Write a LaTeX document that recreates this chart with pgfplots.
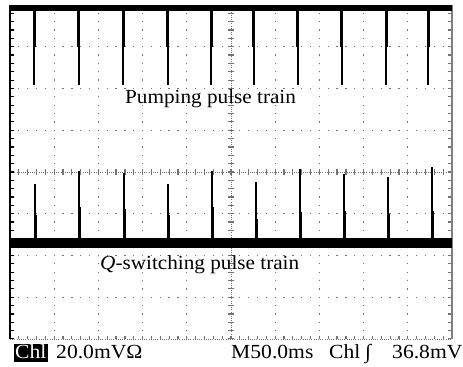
\documentclass[border=0pt]{standalone}
\usepackage{fontspec}
\setmainfont{Liberation Serif}
\newfontfamily\mainlbl[FakeStretch=1.06]{Liberation Serif}
\newfontfamily\statfont[FakeStretch=1.08]{Liberation Serif}
\usepackage{pgfplots}
\pgfplotsset{compat=1.18}
\definecolor{gridgray}{gray}{0.45}
\begin{document}
\begin{tikzpicture}
\begin{axis}[
  at={(0,0)}, anchor=south west,
  scale only axis, width=442bp, height=334bp,
  xmin=0, xmax=10, ymin=0, ymax=8,
  axis lines=none,
  clip=false,
  unbounded coords=jump,
]
% ---- graticule ----
\pgfplotsinvokeforeach{1,2,3,4,6,7,8,9}{
  \draw[gridgray, line width=1.3bp, dash pattern=on 1.3bp off 7.05bp, dash phase=0.65bp]
    (axis cs:#1,0) -- (axis cs:#1,8);
}
\pgfplotsinvokeforeach{1,2,3,5,6,7}{
  \draw[gridgray, line width=1.3bp, dash pattern=on 1.3bp off 7.54bp, dash phase=0.65bp]
    (axis cs:0,#1) -- (axis cs:10,#1);
}
% centre lines
\draw[gridgray, line width=1bp, dash pattern=on 1bp off 1.2bp] (axis cs:5,0) -- (axis cs:5,8);
\draw[gridgray, line width=6bp, dash pattern=on 1.2bp off 7.15bp, dash phase=0.6bp] (axis cs:5,0) -- (axis cs:5,8);
\draw[gridgray, line width=1bp, dash pattern=on 1bp off 1.2bp] (axis cs:0,4) -- (axis cs:10,4);
\draw[gridgray, line width=6bp, dash pattern=on 1.2bp off 7.64bp, dash phase=0.6bp] (axis cs:0,4) -- (axis cs:10,4);
% borders
\draw[gridgray, line width=1bp, dash pattern=on 1bp off 1.2bp] (axis cs:0,0) -- (axis cs:10,0);
\draw[gridgray, line width=3bp, dash pattern=on 1.2bp off 7.64bp, dash phase=0.6bp] ([yshift=1.5bp]axis cs:0,0) -- ([yshift=1.5bp]axis cs:10,0);
\draw[black, line width=3bp, dash pattern=on 1.2bp off 7.15bp, dash phase=0.6bp] ([xshift=2bp]axis cs:0,0) -- ([xshift=2bp]axis cs:0,8);
\draw[gridgray, line width=3bp, dash pattern=on 1.2bp off 7.15bp, dash phase=0.6bp] ([xshift=-2.5bp]axis cs:10,0) -- ([xshift=-2.5bp]axis cs:10,8);
\draw[black, line width=2.2bp] (axis cs:0,0) -- (axis cs:0,8);
\draw[gray, line width=2bp] (axis cs:10,0) -- (axis cs:10,8);

% ---- pumping pulse train ----
\addplot[black, line width=6bp, mark=none] coordinates {(0,7.928) (10,7.928)};
\addplot[black, line width=1.8bp, mark=none] coordinates {
 (0.543,7.93) (0.543,6.084) (nan,nan)
 (1.554,7.93) (1.554,6.084) (nan,nan)
 (2.563,7.93) (2.563,6.084) (nan,nan)
 (3.568,7.93) (3.568,6.084) (nan,nan)
 (4.554,7.93) (4.554,6.084) (nan,nan)
 (5.514,7.93) (5.514,6.084) (nan,nan)
 (6.509,7.93) (6.509,6.084) (nan,nan)
 (7.505,7.93) (7.505,6.084) (nan,nan)
 (8.507,7.93) (8.507,6.084) (nan,nan)
 (9.464,7.93) (9.464,6.084)
};
\addplot[black, line width=3bp, mark=none] coordinates {
 (0.543,7.93) (0.543,6.994) (nan,nan)
 (1.554,7.93) (1.554,6.994) (nan,nan)
 (2.563,7.93) (2.563,6.994) (nan,nan)
 (3.568,7.93) (3.568,6.994) (nan,nan)
 (4.554,7.93) (4.554,6.994) (nan,nan)
 (5.514,7.93) (5.514,6.994) (nan,nan)
 (6.509,7.93) (6.509,6.994) (nan,nan)
 (7.505,7.93) (7.505,6.994) (nan,nan)
 (8.507,7.93) (8.507,6.994) (nan,nan)
 (9.464,7.93) (9.464,6.994)
};

% ---- Q-switching pulse train ----
\addplot[black, line width=10bp, mark=none] coordinates {(0,2.299) (10,2.299)};
\addplot[black, line width=1.8bp, mark=none] coordinates {
 (0.566,2.3) (0.566,3.71) (nan,nan)
 (1.561,2.3) (1.561,4.02) (nan,nan)
 (2.579,2.3) (2.579,3.98) (nan,nan)
 (3.575,2.3) (3.575,3.71) (nan,nan)
 (4.577,2.3) (4.577,4.02) (nan,nan)
 (5.566,2.3) (5.566,3.76) (nan,nan)
 (6.561,2.3) (6.561,4.07) (nan,nan)
 (7.557,2.3) (7.557,3.95) (nan,nan)
 (8.552,2.3) (8.552,3.88) (nan,nan)
 (9.554,2.3) (9.554,4.12)
};
\addplot[black, line width=2.6bp, mark=none] coordinates {
 (0.585,2.3) (0.585,2.97) (nan,nan)
 (1.580,2.3) (1.580,3.16) (nan,nan)
 (2.598,2.3) (2.598,3.11) (nan,nan)
 (3.594,2.3) (3.594,2.97) (nan,nan)
 (4.596,2.3) (4.596,3.16) (nan,nan)
 (5.585,2.3) (5.585,2.87) (nan,nan)
 (6.580,2.3) (6.580,3.04) (nan,nan)
 (7.576,2.3) (7.576,3.07) (nan,nan)
 (8.571,2.3) (8.571,2.99) (nan,nan)
 (9.573,2.3) (9.573,3.07)
};
\end{axis}

% ---- labels ----
\node[anchor=base west, inner sep=0pt, font=\mainlbl\fontsize{20bp}{22bp}\selectfont] at (115bp,235bp) {Pumping pulse train};
\node[anchor=base west, inner sep=0pt, font=\mainlbl\fontsize{20bp}{22bp}\selectfont] at (90bp,69bp) {\textit{Q}-switching pulse train};

% ---- status line ----
\node[anchor=base west, fill=black, text=white, inner xsep=1.5bp, inner ysep=1bp, text height=13.3bp, text depth=2bp, font=\statfont\fontsize{20bp}{22bp}\selectfont] at (3.5bp,-19.5bp) {Chl};
\node[anchor=base west, inner sep=0pt, font=\statfont\fontsize{20bp}{22bp}\selectfont] at (46bp,-19.5bp) {20.0mVΩ};
\node[anchor=base west, inner sep=0pt, font=\statfont\fontsize{20bp}{22bp}\selectfont] at (221bp,-19.5bp) {M50.0ms};
\node[anchor=base west, inner sep=0pt, font=\statfont\fontsize{20bp}{22bp}\selectfont] at (319bp,-19.5bp) {Chl};
\node[anchor=base west, inner sep=0pt, font=\statfont\fontsize{20bp}{22bp}\selectfont] at (355bp,-19.5bp) {∫};
\node[anchor=base west, inner sep=0pt, font=\statfont\fontsize{20bp}{22bp}\selectfont] at (382bp,-19.5bp) {36.8mV};

\pgfresetboundingbox
\path (-10bp,-28bp) rectangle (453bp,339bp);
\end{tikzpicture}
\end{document}
